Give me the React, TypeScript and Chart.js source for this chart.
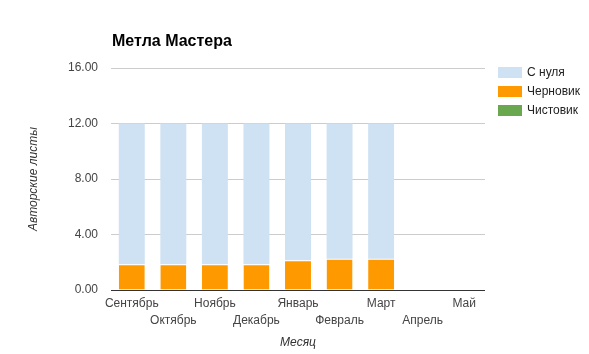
import { useEffect, useRef } from 'react';
import { Chart, registerables } from 'chart.js';

Chart.register(...registerables);

const chartTitle = 'Метла Мастера';
const xTitle = 'Месяц';
const yTitle = 'Авторские листы';
const months = ['Сентябрь', 'Октябрь', 'Ноябрь', 'Декабрь', 'Январь', 'Февраль', 'Март', 'Апрель', 'Май'];
// stacked segments (draft at the bottom, "from scratch" on top)
const draft = [1.85, 1.85, 1.85, 1.85, 2.15, 2.25, 2.25, null, null];
const fromScratch = [10.15, 10.15, 10.15, 10.15, 9.85, 9.75, 9.75, null, null];
const clean = [0, 0, 0, 0, 0, 0, 0, null, null];
const yMax = 16;
const yStep = 4;

const FONT = '"Liberation Sans", Arial, sans-serif';

const legendItems = [
  { label: 'С нуля', color: '#cfe2f3' },
  { label: 'Черновик', color: '#ff9900' },
  { label: 'Чистовик', color: '#6aa84f' },
];

const overlayPlugin = {
  id: 'overlay',
  afterDraw(chart: any) {
    const ctx = chart.ctx;
    const area = chart.chartArea;
    ctx.save();
    ctx.fillStyle = '#000';
    ctx.font = `bold 16px ${FONT}`;
    ctx.textBaseline = 'middle';
    ctx.textAlign = 'left';
    ctx.fillText(chartTitle, area.left + 1, 42);
    ctx.font = `12px ${FONT}`;
    legendItems.forEach((it, i) => {
      const y = 67 + i * 19;
      ctx.fillStyle = it.color;
      ctx.fillRect(area.right + 13, y, 24, 11);
      ctx.fillStyle = '#222';
      ctx.fillText(it.label, area.right + 42, y + 6);
    });
    ctx.restore();
  },
};

export default function App() {
  const ref = useRef<HTMLCanvasElement | null>(null);
  useEffect(() => {
    if (!ref.current) return;
    const labels = months.map((m, i) => (i % 2 === 0 ? [m, ''] : ['', m]));
    const chart = new Chart(ref.current, {
      type: 'bar',
      data: {
        labels,
        datasets: [
          {
            label: 'Черновик',
            data: draft,
            backgroundColor: '#ff9900',
            borderColor: '#ffffff',
            borderWidth: { top: 1, left: 0, right: 0, bottom: 0 },
            borderSkipped: false,
          },
          { label: 'С нуля', data: fromScratch, backgroundColor: '#cfe2f3', borderWidth: 0 },
          { label: 'Чистовик', data: clean, backgroundColor: '#6aa84f', borderWidth: 0 },
        ],
      },
      options: {
        responsive: false,
        animation: false,
        layout: { padding: { top: 68, right: 104, left: 0, bottom: 0 } },
        datasets: { bar: { barPercentage: 0.625, categoryPercentage: 1 } },
        plugins: { legend: { display: false }, title: { display: false }, tooltip: { enabled: false } },
        scales: {
          x: {
            stacked: true,
            afterFit: (s: any) => { s.height = 64; },
            grid: { display: false, drawTicks: false },
            border: { display: false },
            ticks: {
              autoSkip: false,
              maxRotation: 0,
              minRotation: 0,
              padding: 5,
              color: '#444',
              font: { family: FONT, size: 12, lineHeight: 17 / 12 },
            },
            title: {
              display: true,
              text: xTitle,
              color: '#333',
              font: { family: FONT, size: 12, style: 'italic' },
              padding: { top: 0, bottom: 4 },
            },
          },
          y: {
            stacked: true,
            min: 0,
            max: yMax,
            afterFit: (s: any) => { s.width = 111; },
            grid: {
              drawTicks: false,
              color: (c: any) => (c.tick && c.tick.value === 0 ? '#333' : '#cccccc'),
              lineWidth: 1,
            },
            border: { display: false },
            ticks: {
              stepSize: yStep,
              padding: 13,
              color: '#444',
              font: { family: FONT, size: 12 },
              callback: (v: any) => Number(v).toFixed(2),
            },
            title: {
              display: true,
              text: yTitle,
              color: '#333',
              font: { family: FONT, size: 12, style: 'italic' },
              padding: { top: 26, bottom: 0 },
            },
          },
        },
      },
      plugins: [overlayPlugin],
    });
    return () => chart.destroy();
  }, []);
  return (
    <div style={{ position: 'fixed', left: 0, top: 0, width: 589, height: 354, background: '#fff' }}>
      <canvas ref={ref} width={589} height={354} />
    </div>
  );
}
